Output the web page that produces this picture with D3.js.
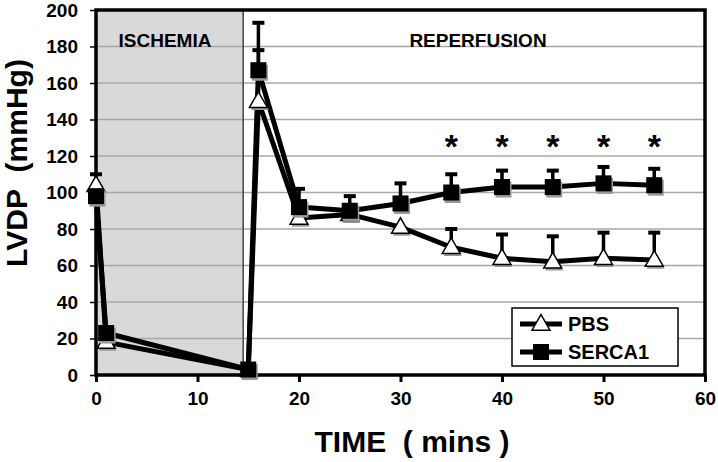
<!DOCTYPE html>
<html>
<head>
<meta charset="utf-8">
<script src="https://cdn.jsdelivr.net/npm/d3@7"></script>
<style>
  body { margin: 0; background: #fff; }
  text { font-family: "Liberation Sans", Arial, sans-serif; font-weight: bold; }
</style>
</head>
<body>
<div id="canvas"></div>
<script>
/* values */
var times = [0, 1, 15, 16, 20, 25, 30, 35, 40, 45, 50, 55];
var pbs = [104, 18, 3, 150, 86, 88, 81, 70, 64, 62, 64, 63];
var pbsErr = [110, 18, 3, 178, 86, 88, 81, 80, 77, 76, 78, 78];
var serca = [98, 23, 3, 167, 92, 90, 94, 100, 103, 103, 105, 104];
var sercaErr = [98, 23, 3, 193, 102, 98, 105, 110, 112, 112, 114, 113];
var starTimes = [35, 40, 45, 50, 55];
var starLevel = 128;
var xTicks = [0, 10, 20, 30, 40, 50, 60];
var yTicks = [0, 20, 40, 60, 80, 100, 120, 140, 160, 180, 200];
var ischemiaEnd = 14.5;

var width = 718, height = 462;
var margin = {t:10, r:13, b:87, l:96};

var x = d3.scaleLinear().domain([0, 60]).range([margin.l, width - margin.r]);
var y = d3.scaleLinear().domain([0, 200]).range([height - margin.b, margin.t]);

var svg = d3.select('#canvas')
    .append('svg')
    .attr('width', width)
    .attr('height', height);

// shaded ischemia period
svg.append('rect')
    .attr('x', x(0))
    .attr('y', y(200))
    .attr('width', x(ischemiaEnd) - x(0))
    .attr('height', y(0) - y(200))
    .style('fill', '#d9d9d9');

// gridlines
svg.append('g')
    .selectAll('line')
    .data(yTicks)
    .enter()
    .append('line')
    .attr('x1', x(0))
    .attr('x2', x(60))
    .attr('y1', function(d){ return y(d); })
    .attr('y2', function(d){ return y(d); })
    .style('stroke', '#a8a8a8')
    .style('stroke-width', 1.5);

svg.append('line')
    .attr('x1', x(ischemiaEnd)).attr('x2', x(ischemiaEnd))
    .attr('y1', y(200)).attr('y2', y(0))
    .style('stroke', '#444')
    .style('stroke-width', 1.5);

// frame
svg.append('rect')
    .attr('x', x(0))
    .attr('y', y(200))
    .attr('width', x(60) - x(0))
    .attr('height', y(0) - y(200))
    .style('fill', 'none')
    .style('stroke', '#000')
    .style('stroke-width', 3.5);

// axes
var xAxis = svg.append('g')
    .attr('transform', 'translate(0,' + y(0) + ')')
    .call(d3.axisBottom(x).tickValues(xTicks).tickSize(7).tickPadding(10));
var yAxis = svg.append('g')
    .attr('transform', 'translate(' + x(0) + ',0)')
    .call(d3.axisLeft(y).tickValues(yTicks).tickSize(6).tickPadding(12));

[xAxis, yAxis].forEach(function(ax){
    ax.select('.domain').remove();
    ax.selectAll('line').style('stroke', '#000').style('stroke-width', 3);
    ax.selectAll('text')
        .style('font-size', '19px')
        .style('font-family', '"Liberation Sans", Arial, sans-serif')
        .style('font-weight', 'bold')
        .style('fill', '#000');
});
yAxis.selectAll('line').style('stroke-width', 1.5);

svg.append('text')
    .attr('x', 165).attr('y', 47)
    .attr('text-anchor', 'middle')
    .style('font-size', '19px')
    .text('ISCHEMIA');
svg.append('text')
    .attr('x', 478).attr('y', 47)
    .attr('text-anchor', 'middle')
    .style('font-size', '19px')
    .text('REPERFUSION');

svg.append('text')
    .attr('x', 412).attr('y', 452)
    .attr('text-anchor', 'middle')
    .style('font-size', '30px')
    .text('TIME\u00a0\u00a0( mins )');
svg.append('text')
    .attr('transform', 'translate(27,163) rotate(-90)')
    .attr('text-anchor', 'middle')
    .style('font-size', '30px')
    .text('LVDP\u00a0\u00a0(mmHg)');

var line = d3.line()
    .x(function(d){ return x(d.t); })
    .y(function(d){ return y(d.v); });

function seriesData(vals, errs){
    return times.map(function(t, i){ return {t:t, v:vals[i], e:errs[i]}; });
}
var pbsData = seriesData(pbs, pbsErr);
var sercaData = seriesData(serca, sercaErr);

function drawErr(data){
    var g = svg.append('g');
    data.filter(function(d){ return d.e > d.v; }).forEach(function(d){
        g.append('line')
            .attr('x1', x(d.t)).attr('x2', x(d.t))
            .attr('y1', y(d.v)).attr('y2', y(d.e))
            .style('stroke', '#000').style('stroke-width', 3.5);
        g.append('line')
            .attr('x1', x(d.t) - 6).attr('x2', x(d.t) + 6)
            .attr('y1', y(d.e)).attr('y2', y(d.e))
            .style('stroke', '#000').style('stroke-width', 4);
    });
}

drawErr(pbsData);
drawErr(sercaData);

svg.append('path').datum(pbsData).attr('d', line)
    .style('fill', 'none').style('stroke', '#000').style('stroke-width', 5)
    .style('stroke-linejoin', 'round');
svg.append('path').datum(sercaData).attr('d', line)
    .style('fill', 'none').style('stroke', '#000').style('stroke-width', 5)
    .style('stroke-linejoin', 'round');

var tri = d3.symbol().type(d3.symbolTriangle).size(140);

function drawTri(g, cx, cy){
    g.append('path').attr('d', tri)
        .attr('transform', 'translate(' + (cx + 1.5) + ',' + (cy + 2.5) + ')')
        .style('fill', '#999');
    g.append('path').attr('d', tri)
        .attr('transform', 'translate(' + cx + ',' + cy + ')')
        .style('fill', '#fff').style('stroke', '#000').style('stroke-width', 1.5);
}
function drawSq(g, cx, cy){
    g.append('rect').attr('x', cx - 8 + 1.5).attr('y', cy - 8 + 2.5)
        .attr('width', 16).attr('height', 16).style('fill', '#999');
    g.append('rect').attr('x', cx - 8).attr('y', cy - 8)
        .attr('width', 16).attr('height', 16).style('fill', '#000');
}

var marks = svg.append('g');
pbsData.forEach(function(d){ drawTri(marks, x(d.t), y(d.v) + 1); });
sercaData.forEach(function(d){ drawSq(marks, x(d.t), y(d.v)); });

// significance stars
svg.append('g')
    .selectAll('text')
    .data(starTimes)
    .enter()
    .append('text')
    .attr('x', function(d){ return x(d); })
    .attr('y', y(starLevel) + 17)
    .attr('text-anchor', 'middle')
    .style('font-size', '34px')
    .style('font-weight', 'bold')
    .text('*');

// legend
var legend = svg.append('g').attr('transform', 'translate(512,308)');
legend.append('rect')
    .attr('width', 166).attr('height', 58)
    .style('fill', '#fff').style('stroke', '#000').style('stroke-width', 1.5);
[['PBS', 'tri'], ['SERCA1', 'sq']].forEach(function(item, i){
    var ly = 16 + i * 28;
    legend.append('line')
        .attr('x1', 8).attr('x2', 50).attr('y1', ly).attr('y2', ly)
        .style('stroke', '#000').style('stroke-width', 5);
    if (item[1] == 'tri') {
        legend.append('path').attr('d', tri)
            .attr('transform', 'translate(29,' + (ly + 1) + ')')
            .style('fill', '#fff').style('stroke', '#000').style('stroke-width', 1.5);
    } else {
        legend.append('rect').attr('x', 21).attr('y', ly - 8)
            .attr('width', 16).attr('height', 16).style('fill', '#000');
    }
    legend.append('text')
        .attr('x', 56).attr('y', ly + 7)
        .style('font-size', '20px')
        .text(item[0]);
});
</script>
</body>
</html>
